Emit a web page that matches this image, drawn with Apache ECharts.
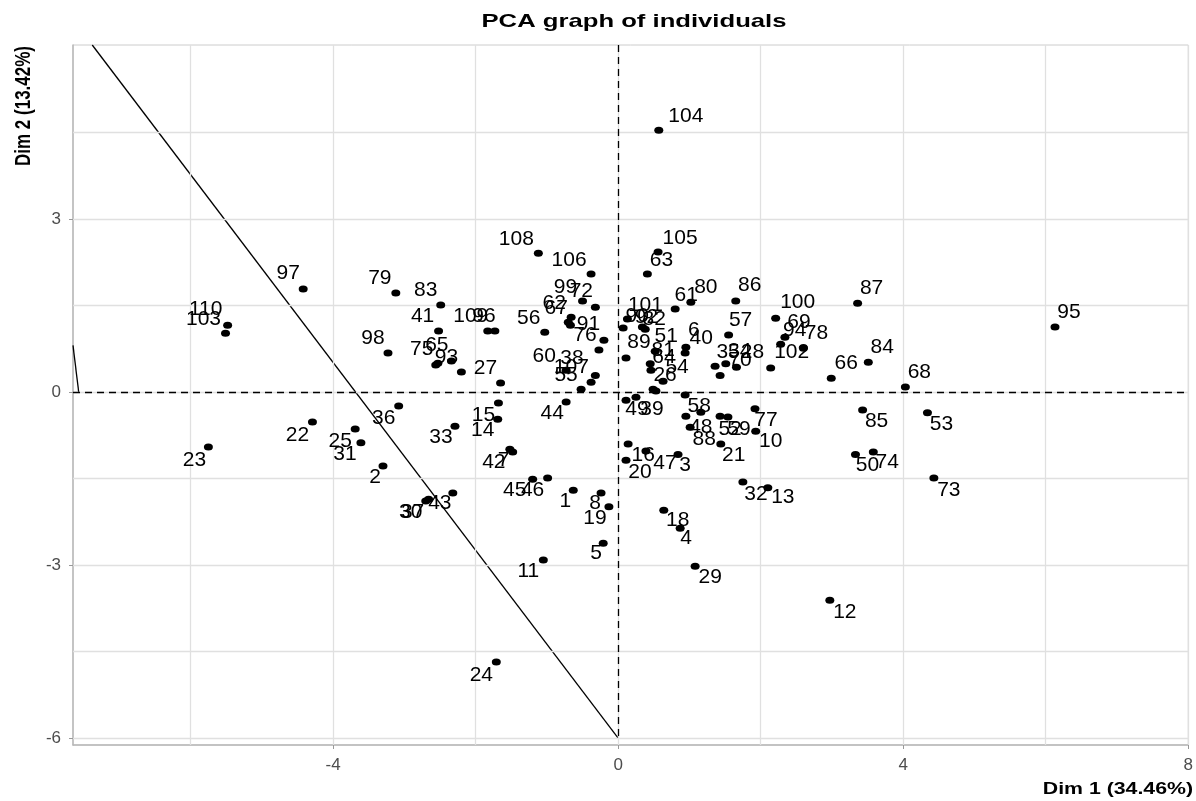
<!DOCTYPE html>
<html>
<head>
<meta charset="utf-8">
<script src="https://cdn.jsdelivr.net/npm/echarts@6/dist/echarts.min.js"></script>
<style>html,body{margin:0;padding:0;background:#fff}#c{width:1196px;height:801px}</style>
</head>
<body>
<div id="c"></div>
<script>
// ---- data: individuals (label, Dim 1, Dim 2) ----
const ids  = ['104','105','63','108','106','99','72','62','67','91','56','76','60','38','107','55','',
  '110','103','23','97','79','83','41','98','75','65','93','27','109','96','',
  '36','22','25','31','2','33','15','14','42','7','45','46','43','30','37','11','24',
  '44','1','8','19','5','16','47','20','3','18','4','29','21','32','13','12','10','77',
  '58','48','','88','52','59','49','39','89','51','6','40','81','64','54','26','',
  '101','90','92','82','61','80','57','86','87','100','69','94','78','102','66','84','68','95',
  '85','53','50','74','73','35','34','28','70'];
const dim1 = [0.57,0.56,0.41,-1.12,-0.38,-0.50,-0.32,-0.66,-0.70,-0.67,-1.03,-0.20,-0.73,-0.27,-0.32,-0.38,-0.52,
  -5.48,-5.51,-5.75,-4.42,-3.12,-2.49,-2.52,-3.23,-2.56,-2.53,-2.34,-2.20,-1.83,-1.73,-1.65,
  -3.08,-4.29,-3.69,-3.61,-3.30,-2.29,-1.68,-1.69,-1.52,-1.48,-1.20,-0.99,-2.32,-2.70,-2.66,-1.05,-1.71,
  -0.73,-0.63,-0.24,-0.13,-0.21,0.14,0.39,0.11,0.84,0.64,0.87,1.08,1.44,1.75,2.10,2.97,1.93,1.92,
  0.94,0.95,1.16,1.01,1.43,1.54,0.11,0.25,0.11,0.52,0.95,0.94,0.45,0.46,0.63,0.49,0.53,
  0.13,0.07,0.34,0.38,0.80,1.02,1.55,1.65,3.36,2.21,2.34,2.28,2.60,2.14,2.99,3.51,4.03,6.13,
  3.43,4.34,3.33,3.58,4.43,1.36,1.51,1.66,1.43];
const dim2 = [4.54,2.43,2.05,2.41,2.05,1.58,1.47,1.30,1.21,1.16,1.04,0.90,0.38,0.73,0.29,0.17,0.05,
  1.16,1.02,-0.95,1.79,1.72,1.51,1.06,0.68,0.47,0.50,0.54,0.35,1.06,1.06,0.16,
  -0.24,-0.52,-0.64,-0.88,-1.28,-0.59,-0.19,-0.47,-0.99,-1.04,-1.51,-1.49,-1.75,-1.89,-1.86,-2.91,-4.68,
  -0.17,-1.70,-1.75,-1.99,-2.62,-0.90,-1.02,-1.18,-1.08,-2.05,-2.36,-3.02,-0.90,-1.56,-1.66,-3.61,-0.68,-0.29,
  -0.05,-0.42,-0.35,-0.61,-0.42,-0.43,-0.14,-0.09,0.59,0.71,0.78,0.68,0.49,0.38,0.19,0.05,0.02,
  1.27,1.11,1.13,1.09,1.44,1.56,0.99,1.58,1.54,1.28,0.95,0.83,0.76,0.42,0.24,0.52,0.09,1.13,
  -0.31,-0.36,-1.08,-1.04,-1.49,0.45,0.49,0.43,0.29];

// reference lines (data units)
const diagonalLine = [[-7.38, 6.02], [0, -6]];
const edgeLine = [[-7.65, 0.81], [-7.57, 0]];
const xTickLabels = [-4, 0, 4, 8];
const yTickLabels = [-6, -3, 0, 3];
const xGrid = [-6, -4, -2, 0, 2, 4, 6, 8];
const yGrid = [-6, -4.5, -3, -1.5, 0, 1.5, 3, 4.5];
const xRange = [-7.65, 8.0];
const yRange = [-6.12, 6.02];

// ---- layout: label offsets (px) relative to each point ----
const labelDx = [27,22,14,-22,-22,-17,-14,-17,-12,18,-16,-19,-22,-27,-24,-25,0,
  -22,-22,-14,-15,-16,-15,-16,-15,-14,-1,-5,24,-17,-11,0,
  -15,-15,-15,-16,-8,-14,-15,-15,-16,-9,-18,-15,-13,-15,-16,-15,-15,
  -14,-8,-6,-14,-7,15,19,14,7,14,6,15,13,13,15,15,15,11,
  14,15,0,14,10,11,11,16,13,11,8,16,13,13,14,12,0,
  18,14,4,9,11,15,12,14,14,22,14,14,13,21,15,14,14,14,
  14,14,12,14,15,13,14,16,20];
const labelDy = [-14,-14,-14,-14,-14,-14,-16,-14,-14,-1,-14,-5,-14,8,-8,-7,0,
  -16,-14,13,-16,-15,-15,-15,-15,-16,-18,-4,-4,-15,-15,0,
  12,13,12,11,11,11,12,11,13,8,11,12,10,11,13,11,13,
  11,11,10,11,10,11,12,12,11,10,10,11,11,12,9,12,10,11,
  11,11,0,12,13,12,9,12,-16,-15,-17,-15,-14,-13,-14,-14,0,
  -14,-12,-10,-10,-14,-15,-15,-16,-15,-16,-15,-14,-15,-16,-15,-15,-15,-15,
  11,11,11,10,12,-14,-13,-15,-15];

const dotW = 9, dotH = 7;
const points = ids.map((id, i) => ({
  name: id,
  value: [dim1[i], dim2[i]],
  label: { show: id !== '', position: [dotW / 2 + labelDx[i], dotH / 2 + labelDy[i]] }
}));

const gridStyle = { color: '#e0e0e0', width: 1.3, type: 'solid' };
const zeroStyle = { color: '#000', width: 1.3, type: [7, 5] };

const chart = echarts.init(document.getElementById('c'), null, { renderer: 'canvas' });
chart.setOption({
  animation: false,
  backgroundColor: '#fff',
  grid: { left: 73, right: 4, top: 45, bottom: 56, show: true, borderColor: '#cccccc', borderWidth: 1, containLabel: false },
  xAxis: {
    type: 'value', min: xRange[0], max: xRange[1],
    splitLine: { show: false },
    axisLine: { show: true, onZero: false, lineStyle: { color: '#b8b8b8', width: 1.5 } },
    axisTick: { show: true, length: 4, customValues: xTickLabels, lineStyle: { color: '#999' } },
    axisLabel: { customValues: xTickLabels, margin: 12, color: '#4d4d4d', fontSize: 17,
      fontFamily: '"Liberation Sans Narrow", "Liberation Sans", Arial, sans-serif' }
  },
  yAxis: {
    type: 'value', min: yRange[0], max: yRange[1],
    splitLine: { show: false },
    axisLine: { show: true, onZero: false, lineStyle: { color: '#b8b8b8', width: 1.5 } },
    axisTick: { show: true, length: 4, customValues: yTickLabels, lineStyle: { color: '#999' } },
    axisLabel: { customValues: yTickLabels, margin: 12, color: '#4d4d4d', fontSize: 17,
      fontFamily: '"Liberation Sans Narrow", "Liberation Sans", Arial, sans-serif' }
  },
  graphic: [
    { type: 'text', x: 634, y: 22, scaleX: 1.35, z: 10,
      style: { text: 'PCA graph of individuals', font: 'bold 19px "Liberation Sans", Arial, sans-serif', fill: '#000', align: 'center', verticalAlign: 'middle' } },
    { type: 'text', x: 1193, y: 790, scaleX: 1.33, z: 10,
      style: { text: 'Dim 1 (34.46%)', font: 'bold 16px "Liberation Sans", Arial, sans-serif', fill: '#000', align: 'right', verticalAlign: 'middle' } },
    { type: 'text', x: 24, y: 46, rotation: Math.PI / 2, scaleY: 1.33, z: 10,
      style: { text: 'Dim 2 (13.42%)', font: 'bold 17px "Liberation Sans", Arial, sans-serif', fill: '#000', align: 'right', verticalAlign: 'middle' } }
  ],
  series: [
    {
      type: 'line', data: diagonalLine, symbol: 'none', z: 2, silent: true,
      lineStyle: { color: '#000', width: 1.3 },
      markLine: {
        silent: true, symbol: ['none', 'none'], label: { show: false }, animation: false,
        data: [
          ...xGrid.map(v => ({ xAxis: v, lineStyle: gridStyle })),
          ...yGrid.map(v => ({ yAxis: v, lineStyle: gridStyle })),
          { yAxis: 0, lineStyle: zeroStyle },
          [{ coord: [0, yRange[1]], lineStyle: zeroStyle }, { coord: [0, -6] }]
        ]
      }
    },
    {
      type: 'line', data: edgeLine, symbol: 'none', z: 2, silent: true,
      lineStyle: { color: '#000', width: 1.3 }
    },
    {
      type: 'scatter', data: points, z: 5,
      symbol: 'circle', symbolSize: [dotW, dotH],
      itemStyle: { color: '#000', opacity: 1 },
      label: { show: true, formatter: '{b}', color: '#000', fontSize: 21,
        fontFamily: '"Liberation Sans", Arial, sans-serif', align: 'center', verticalAlign: 'middle' },
      labelLayout: { hideOverlap: false }
    }
  ]
});
</script>
</body>
</html>
